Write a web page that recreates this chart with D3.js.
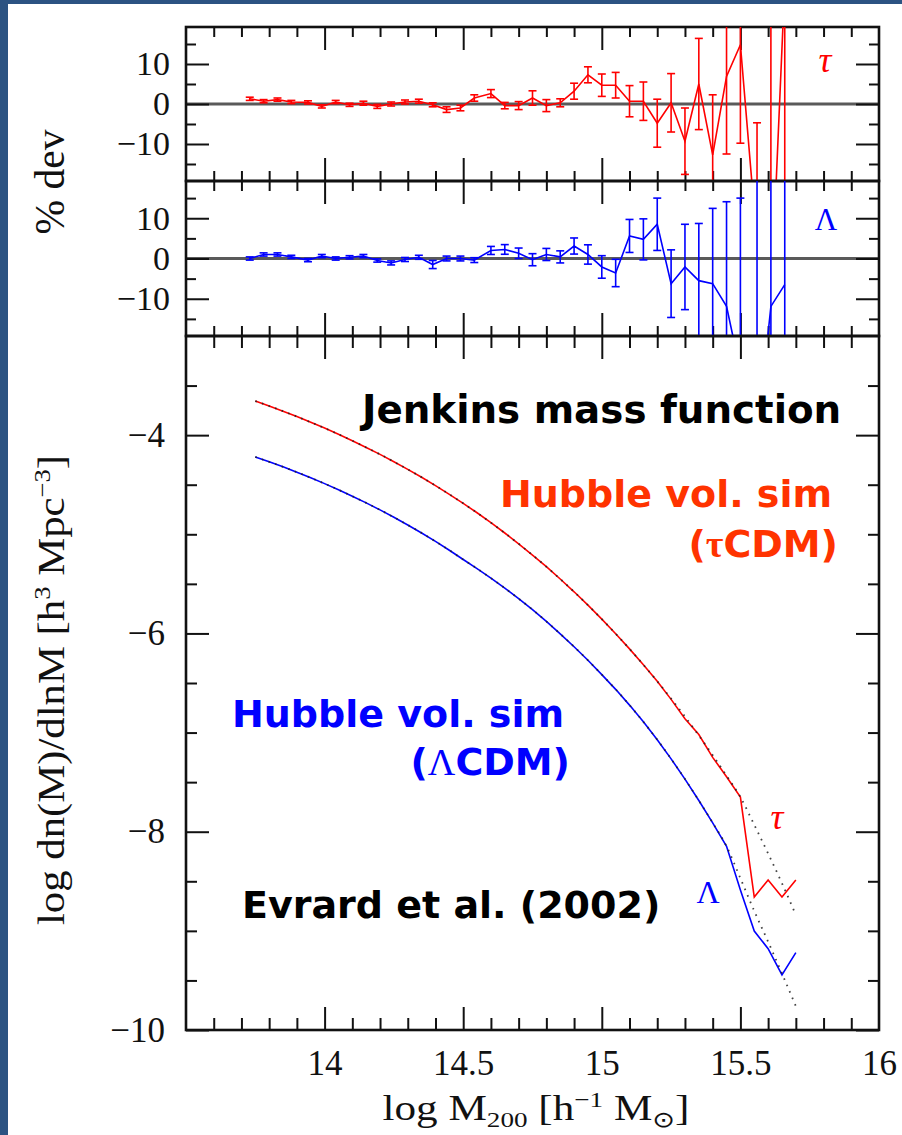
<!DOCTYPE html>
<html><head><meta charset="utf-8">
<script src="https://cdn.jsdelivr.net/npm/d3@7"></script>
<style>body{margin:0;background:#fff}svg{display:block}</style>
</head><body>
<svg id="c" width="902" height="1135"></svg>
<script>
// ---- data ----
const logM = [13.75,13.80,13.85,13.90,13.95,14.00,14.05,14.10,14.15,14.20,14.25,14.30,14.35,14.40,14.45,14.50,14.55,14.60,14.65,14.70,
              14.75,14.80,14.85,14.90,14.95,15.00,15.05,15.10,15.15,15.20,15.25,15.30,15.35,15.40,15.45,15.50,15.55,15.60,15.65,15.70];
const logN_tauSim = [-3.656,-3.706,-3.758,-3.813,-3.870,-3.929,-3.991,-4.056,-4.124,-4.194,-4.268,-4.345,-4.425,-4.509,-4.597,-4.688,-4.783,-4.883,-4.987,-5.096,
                     -5.209,-5.327,-5.451,-5.580,-5.715,-5.856,-6.003,-6.156,-6.316,-6.483,-6.665,-6.860,-7.020,-7.250,-7.445,-7.651,-8.659,-8.487,-8.659,-8.487];
const logN_lcdmSim = [-4.220,-4.269,-4.320,-4.374,-4.430,-4.489,-4.551,-4.616,-4.683,-4.754,-4.828,-4.906,-4.987,-5.072,-5.161,-5.254,-5.346,-5.442,-5.543,-5.649,
                      -5.760,-5.879,-6.004,-6.134,-6.271,-6.415,-6.564,-6.723,-6.892,-7.072,-7.265,-7.469,-7.685,-7.910,-8.147,-8.588,-9.002,-9.180,-9.445,-9.220];
const logN_tauJenkins = [-3.656,-3.706,-3.758,-3.813,-3.870,-3.929,-3.991,-4.056,-4.124,-4.194,-4.268,-4.345,-4.425,-4.509,-4.597,-4.688,-4.783,-4.883,-4.987,-5.096,
                         -5.209,-5.327,-5.451,-5.580,-5.715,-5.856,-6.003,-6.156,-6.316,-6.483,-6.657,-6.839,-7.029,-7.228,-7.435,-7.651,-7.930,-8.220,-8.520,-8.840];
const logN_lcdmJenkins = [-4.220,-4.269,-4.320,-4.374,-4.430,-4.489,-4.551,-4.616,-4.683,-4.754,-4.828,-4.906,-4.987,-5.072,-5.161,-5.254,-5.346,-5.442,-5.543,-5.649,
                          -5.760,-5.879,-6.004,-6.134,-6.271,-6.415,-6.564,-6.723,-6.892,-7.072,-7.265,-7.469,-7.685,-7.910,-8.147,-8.470,-8.800,-9.110,-9.430,-9.760];

const devM = [13.73,13.78,13.83,13.88,13.94,13.99,14.04,14.09,14.14,14.19,14.24,14.29,14.34,14.39,14.44,14.49,14.54,14.60,14.65,14.70,
              14.75,14.80,14.85,14.90,14.95,15.00,15.05,15.10,15.15,15.20,15.25,15.30,15.35,15.40,15.45,15.50,15.56,15.61,15.66];
const devTau = [1.3,0.7,1.1,0.5,0.4,-0.6,0.5,-0.2,0.2,-0.6,0.0,0.5,0.7,-0.2,-1.4,-1.0,1.5,2.6,-0.4,-0.4,
                1.5,-0.4,0.3,3.2,7.3,4.7,4.7,0.7,0.7,-4.8,0.3,-9.3,5.0,-12.7,6.9,14.8,-35,-50,30];
const errTau = [0.4,0.4,0.4,0.4,0.4,0.4,0.4,0.4,0.5,0.5,0.5,0.5,0.5,0.5,0.7,0.7,0.8,1.0,0.8,1.0,
                1.8,1.5,1.0,2.0,2.0,2.8,3.2,3.9,4.8,6.0,7.3,8.3,11.4,15.0,19.4,24.6,30.3,80,60];
const devLcdm = [0.0,1.0,1.0,0.4,-0.4,0.6,0.0,0.3,0.6,-0.5,-1.1,-0.25,0.3,-1.5,0.0,0.0,-0.4,2.0,2.25,1.3,
                 -0.3,1.0,0.4,3.1,1.0,-2.1,-3.6,5.6,4.75,8.5,-6.25,-2.1,-5.5,-6.25,-11.9,-28,-45,-11.9,-6.5];
const errLcdm = [0.4,0.4,0.4,0.4,0.4,0.4,0.4,0.4,0.4,0.4,0.5,0.5,0.5,1.0,0.6,0.6,0.6,1.0,1.2,1.3,
                 1.5,1.5,1.5,2.0,2.4,2.8,3.4,4.1,5.1,6.5,8.4,10.6,14.2,18.7,26,43,80,60,60];

const xMajorTicks = [14, 14.5, 15, 15.5, 16];
const xMajorLabels = ["14", "14.5", "15", "15.5", "16"];
const yMainMajorTicks = [-4, -6, -8, -10];
const yMainMinorTicks = [-9.5, -9, -8.5, -7.5, -7, -6.5, -5.5, -5, -4.5, -3.5];
const devMajorTicks = [10, 0, -10];
const devMinorTicks = [-15, -5, 5, 15];

// ---- layout ----
const W = 902, H = 1135;
const svg = d3.select("#c");
svg.append("rect").attr("width", W).attr("height", H).attr("fill", "#fff");
svg.append("rect").attr("x", 0).attr("y", 0).attr("width", 8).attr("height", H).attr("fill", "#2c5382");
svg.append("rect").attr("x", 0).attr("y", 0).attr("width", W).attr("height", 4).attr("fill", "#2c5382");

const L = 186, R = 879;
const x = d3.scaleLinear([13.5, 16], [L, R]);
const yTau = d3.scaleLinear([-19.25, 19.25], [181, 27]);
const yLam = d3.scaleLinear([-19.25, 19.25], [336, 181]);
const yMain = d3.scaleLinear([-10, -3], [1030, 336]);

const RED = "#ff0000", BLUE = "#0000ff";
const TICKC = "#111";
const xMinor = d3.range(13.6, 15.95, 0.1).map(v => +v.toFixed(1)).filter(v => Math.abs(v * 2 - Math.round(v * 2)) > 1e-6);

const defs = svg.append("defs");
function clip(id, top, bot) {
  defs.append("clipPath").attr("id", id).append("rect")
    .attr("x", L).attr("y", top).attr("width", R - L).attr("height", bot - top);
}
clip("cT", 27, 181); clip("cL", 181, 336); clip("cM", 336, 1030);

function styleAxis(g) {
  g.select(".domain").remove();
  g.selectAll(".tick line").attr("stroke", TICKC).attr("stroke-width", 2);
}
function xTicks(top, bot, majLen, minLen) {
  [[top, d3.axisTop], [bot, d3.axisBottom]].forEach(([yy, ax]) => {
    svg.append("g").attr("transform", `translate(0,${yy})`)
      .call(ax(x).tickValues(xMinor).tickSize(-minLen).tickFormat("")).call(styleAxis);
    svg.append("g").attr("transform", `translate(0,${yy})`)
      .call(ax(x).tickValues(xMajorTicks.filter(v => v < 16)).tickSize(-majLen).tickFormat("")).call(styleAxis);
  });
}
function yTicks(scale, major, minor, majLen, minLen) {
  [[L, d3.axisLeft], [R, d3.axisRight]].forEach(([xx, ax]) => {
    svg.append("g").attr("transform", `translate(${xx},0)`)
      .call(ax(scale).tickValues(minor).tickSize(-minLen).tickFormat("")).call(styleAxis);
    svg.append("g").attr("transform", `translate(${xx},0)`)
      .call(ax(scale).tickValues(major).tickSize(-majLen).tickFormat("")).call(styleAxis);
  });
}
function frame(top, bot) {
  svg.append("rect").attr("x", L).attr("y", top).attr("width", R - L).attr("height", bot - top)
    .attr("fill", "none").attr("stroke", TICKC).attr("stroke-width", 2.6);
}

// ---- deviation panels ----
function devPanel(scale, clipId, top, bot, vals, errs, color) {
  svg.append("line").attr("x1", L).attr("x2", R).attr("y1", scale(0)).attr("y2", scale(0))
    .attr("stroke", "#5a5a5a").attr("stroke-width", 3.2);
  xTicks(top, bot, 23, 10);
  yTicks(scale, devMajorTicks, devMinorTicks, 23, 10);
  frame(top, bot);
  svg.append("g").attr("transform", `translate(${L},0)`)
    .call(d3.axisLeft(scale).tickValues(devMajorTicks).tickSize(0).tickPadding(16).tickFormat(d3.format("d")))
    .call(g => g.select(".domain").remove())
    .attr("font-family", "'Liberation Serif', serif").attr("font-size", 34)
    .selectAll("text").attr("fill", "#111");
  const g = svg.append("g").attr("clip-path", `url(#${clipId})`);
  const pts = devM.map((m, i) => ({ m, v: vals[i], e: errs[i] }));
  g.append("path").datum(pts)
    .attr("d", d3.line().x(d => x(d.m)).y(d => scale(d.v)))
    .attr("fill", "none").attr("stroke", color).attr("stroke-width", 1.6);
  const eb = g.selectAll("g.eb").data(pts).join("g").attr("stroke", color).attr("stroke-width", 1.6);
  eb.append("line").attr("x1", d => x(d.m)).attr("x2", d => x(d.m))
    .attr("y1", d => scale(d.v - d.e)).attr("y2", d => scale(d.v + d.e));
  eb.append("line").attr("x1", d => x(d.m) - 4).attr("x2", d => x(d.m) + 4)
    .attr("y1", d => scale(d.v - d.e)).attr("y2", d => scale(d.v - d.e));
  eb.append("line").attr("x1", d => x(d.m) - 4).attr("x2", d => x(d.m) + 4)
    .attr("y1", d => scale(d.v + d.e)).attr("y2", d => scale(d.v + d.e));
}
devPanel(yTau, "cT", 27, 181, devTau, errTau, RED);
devPanel(yLam, "cL", 181, 336, devLcdm, errLcdm, BLUE);

// ---- main panel ----
xTicks(336, 1030, 23, 12);
yTicks(yMain, yMainMajorTicks, yMainMinorTicks, 23, 11);
frame(336, 1030);
svg.append("g").attr("transform", `translate(0,1030)`)
  .call(d3.axisBottom(x).tickValues(xMajorTicks).tickSize(0).tickPadding(20).tickFormat((d, i) => xMajorLabels[i]))
  .call(g => g.select(".domain").remove())
  .attr("font-family", "'Liberation Serif', serif").attr("font-size", 35)
  .selectAll("text").attr("fill", "#111");
svg.append("g").attr("transform", `translate(${L},0)`)
  .call(d3.axisLeft(yMain).tickValues(yMainMajorTicks).tickSize(0).tickPadding(21).tickFormat(d3.format("d")))
  .call(g => g.select(".domain").remove())
  .attr("font-family", "'Liberation Serif', serif").attr("font-size", 35)
  .selectAll("text").attr("fill", "#111");

const gm = svg.append("g").attr("clip-path", "url(#cM)");
const lineMain = d3.line().x((d, i) => x(logM[i])).y(d => yMain(d));
gm.append("path").datum(logN_tauSim).attr("d", lineMain).attr("fill", "none").attr("stroke", RED).attr("stroke-width", 1.6);
gm.append("path").datum(logN_lcdmSim).attr("d", lineMain).attr("fill", "none").attr("stroke", BLUE).attr("stroke-width", 1.6);
const lineJ = d3.line().x((d, i) => x(logM[i])).y(d => yMain(d)).curve(d3.curveMonotoneX);
[logN_tauJenkins, logN_lcdmJenkins].forEach(arr => {
  gm.append("path").datum(arr).attr("d", lineJ).attr("fill", "none")
    .attr("stroke", "#222").attr("stroke-width", 1.8).attr("stroke-dasharray", "1.6,5.4").attr("opacity", 0.85);
});

// ---- annotations ----
const SANS = "Verdana, 'DejaVu Sans', sans-serif";
function bold(txt, xx, yy, color, anchor, size) {
  return svg.append("text").attr("x", xx).attr("y", yy).attr("fill", color)
    .attr("font-family", SANS).attr("font-weight", "bold").attr("font-size", size || 38)
    .attr("text-anchor", anchor || "start").text(txt);
}
bold("Jenkins mass function", 362, 423, "#000", "start", 38.8);
bold("Hubble vol. sim", 500, 507, "#ff3300");
const t1 = bold("(", 838, 557, "#ff3300", "end");
t1.append("tspan").attr("font-family", "'Liberation Serif', serif").text("τ");
t1.append("tspan").text("CDM)");
bold("Hubble vol. sim", 232, 727, BLUE);
const t2 = bold("(", 570, 775, BLUE, "end");
t2.append("tspan").attr("font-family", "'Liberation Serif', serif").attr("font-weight", "normal").text("Λ");
t2.append("tspan").text("CDM)");
bold("Evrard et al. (2002)", 242, 918, "#000");

function greek(ch, xx, yy, color, size, italic) {
  svg.append("text").attr("x", xx).attr("y", yy).attr("fill", color).attr("text-anchor", "middle")
    .attr("font-family", "'Liberation Serif', serif").attr("font-size", size)
    .attr("font-style", italic ? "italic" : "normal").text(ch);
}
greek("τ", 825, 72, RED, 36, true);
greek("Λ", 826, 230, BLUE, 31, false);
greek("τ", 777, 829, RED, 36, true);
greek("Λ", 708, 903, BLUE, 32, false);

// ---- axis titles ----
const SERIF = "'Liberation Serif', serif";
svg.append("text").attr("transform", "translate(64,182) rotate(-90)").attr("text-anchor", "middle")
  .attr("font-family", SERIF).attr("font-size", 42).attr("fill", "#111")
  .attr("textLength", 105).attr("lengthAdjust", "spacingAndGlyphs").text("% dev");

const yt = svg.append("text").attr("transform", "translate(64,690) rotate(-90)").attr("text-anchor", "middle")
  .attr("font-family", SERIF).attr("font-size", 37).attr("fill", "#111")
  .attr("textLength", 470).attr("lengthAdjust", "spacingAndGlyphs");
yt.append("tspan").text("log dn(M)/dlnM [h");
yt.append("tspan").attr("dy", -14).attr("font-size", 23).text("3");
yt.append("tspan").attr("dy", 14).text(" Mpc");
yt.append("tspan").attr("dy", -14).attr("font-size", 23).text("−3");
yt.append("tspan").attr("dy", 14).text("]");

const xt = svg.append("text").attr("x", 536).attr("y", 1120).attr("text-anchor", "middle")
  .attr("font-family", SERIF).attr("font-size", 35).attr("fill", "#111")
  .attr("textLength", 307).attr("lengthAdjust", "spacingAndGlyphs");
xt.append("tspan").text("log M");
xt.append("tspan").attr("dy", 7).attr("font-size", 22).text("200");
xt.append("tspan").attr("dy", -7).text(" [h");
xt.append("tspan").attr("dy", -13).attr("font-size", 22).text("−1");
xt.append("tspan").attr("dy", 13).text(" M");
xt.append("tspan").attr("dy", 7).attr("font-size", 22).attr("font-family", "'DejaVu Sans', sans-serif").text("⊙");
xt.append("tspan").attr("dy", -7).text("]");
</script>
</body></html>
